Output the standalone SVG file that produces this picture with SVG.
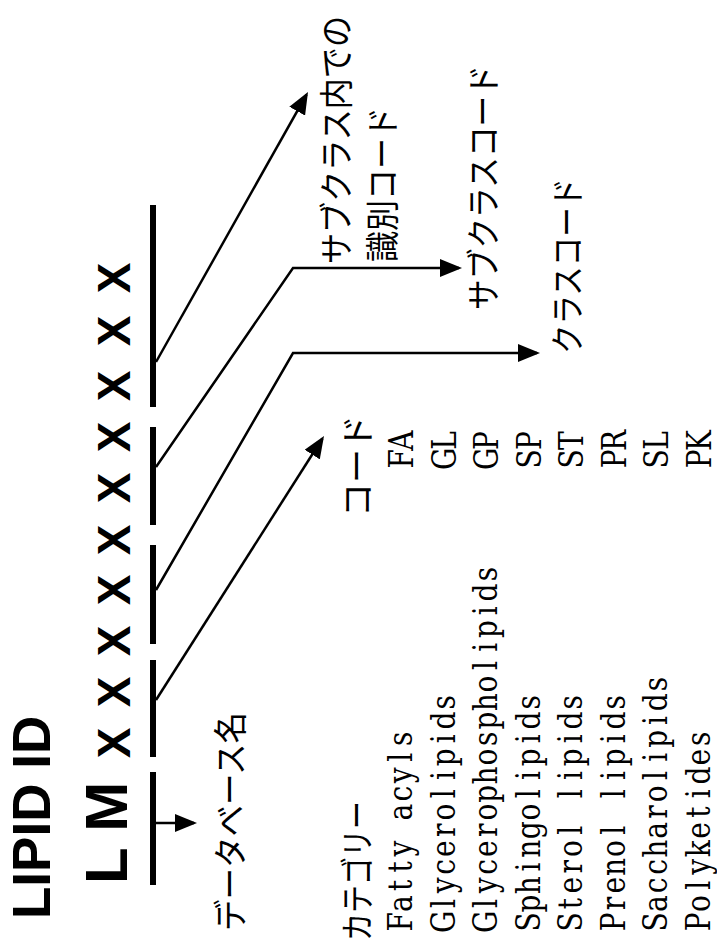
<svg xmlns="http://www.w3.org/2000/svg" width="717" height="944" viewBox="0 0 717 944">
  <defs>
    <style>
      .bold { font-family: "Liberation Sans", Arial, sans-serif; font-weight: bold; fill: #000; }
      .ja { font-family: "Noto Sans CJK JP", sans-serif; font-size: 34px; fill: #000; }
      .tbl { font-family: "DejaVu Serif", "Liberation Serif", serif; font-size: 33px; text-anchor: middle; fill: #000; }
      .bar { fill: #000; }
      .conn { stroke: #000; stroke-width: 2.5; fill: none; }
    </style>
    <marker id="head" viewBox="0 0 22 18" markerUnits="userSpaceOnUse" markerWidth="22" markerHeight="18" refX="19" refY="9" orient="auto">
      <path d="M0,0 L22,9 L0,18 z" fill="#000"/>
    </marker>
  </defs>
  <rect width="717" height="944" fill="#fff"/>

  <!-- title, written bottom-to-top -->
  <g id="title">
    <text class="bold" font-size="53" transform="rotate(-90)" x="-919" y="50">LIPID ID</text>
  </g>

  <!-- identifier: database prefix followed by ten code positions -->
  <g id="id-string">
    <text class="bold" font-size="60" transform="rotate(-90)" x="-884" y="127">L M</text>
    <g transform="rotate(-90)" class="bold" font-size="46" text-anchor="middle">
      <text x="-743" y="130">X</text>
      <text x="-692" y="130">X</text>
      <text x="-641" y="130">X</text>
      <text x="-590" y="130">X</text>
      <text x="-540" y="130">X</text>
      <text x="-488" y="130">X</text>
      <text x="-437" y="130">X</text>
      <text x="-386" y="130">X</text>
      <text x="-331" y="130">X</text>
      <text x="-278" y="130">X</text>
    </g>
  </g>

  <!-- brackets under each field of the identifier -->
  <g id="field-db"><rect class="bar" x="150" y="772" width="6" height="113"/></g>
  <g id="field-category"><rect class="bar" x="150" y="660" width="6" height="97"/></g>
  <g id="field-class"><rect class="bar" x="150" y="545" width="6" height="99"/></g>
  <g id="field-subclass"><rect class="bar" x="150" y="427" width="6" height="98"/></g>
  <g id="field-id"><rect class="bar" x="150" y="205" width="6" height="202"/></g>

  <!-- connectors -->
  <g id="connectors">
    <path class="conn" d="M153,823 H194" marker-end="url(#head)"/>
    <path class="conn" d="M156,700 L322.4,438.5" marker-end="url(#head)"/>
    <path class="conn" d="M156,590 L293,353 H537" marker-end="url(#head)"/>
    <path class="conn" d="M156,467 L293,268 H459" marker-end="url(#head)"/>
    <path class="conn" d="M156,362 L306.5,94.6" marker-end="url(#head)"/>
  </g>

  <!-- field labels -->
  <g id="label-db">
    <text class="ja" transform="rotate(-90)" x="-931" y="243" textLength="219" lengthAdjust="spacingAndGlyphs">データベース名</text>
  </g>
  <g id="label-id">
    <text class="ja" font-size="30" transform="rotate(-90)" x="-264" y="349" textLength="248" lengthAdjust="spacingAndGlyphs">サブクラス内での</text>
    <text class="ja" transform="rotate(-90)" x="-262" y="395" textLength="155" lengthAdjust="spacingAndGlyphs">識別コード</text>
  </g>
  <g id="label-subclass">
    <text class="ja" transform="rotate(-90)" x="-310" y="496" textLength="245" lengthAdjust="spacingAndGlyphs">サブクラスコード</text>
  </g>
  <g id="label-class">
    <text class="ja" transform="rotate(-90)" x="-354" y="580" textLength="176" lengthAdjust="spacingAndGlyphs">クラスコード</text>
  </g>

  <!-- category table: fixed-width cells, one glyph centred per cell -->
  <g id="category-table">
    <text class="ja" transform="rotate(-90)" x="-941" y="370" textLength="140" lengthAdjust="spacingAndGlyphs">カテゴリー</text>
    <text class="ja" transform="rotate(-90)" x="-517" y="370" textLength="102" lengthAdjust="spacingAndGlyphs">コード</text>
    <g transform="rotate(-90) scale(0.85,1)" class="tbl">
      <text y="412" x="-1084.5 -1063.0 -1041.5 -1019.9 -998.4 -976.9 -955.4 -933.8 -912.3 -890.8 -869.2">Fatty acyls</text>
      <text y="454.6" x="-1084.5 -1063.0 -1041.5 -1019.9 -998.4 -976.9 -955.4 -933.8 -912.3 -890.8 -869.2 -847.7 -826.2">Glycerolipids</text>
      <text y="497.1" x="-1084.5 -1063.0 -1041.5 -1019.9 -998.4 -976.9 -955.4 -933.8 -912.3 -890.8 -869.2 -847.7 -826.2 -804.7 -783.1 -761.6 -740.1 -718.5 -697.0 -675.5">Glycerophospholipids</text>
      <text y="539.7" x="-1084.5 -1063.0 -1041.5 -1019.9 -998.4 -976.9 -955.4 -933.8 -912.3 -890.8 -869.2 -847.7 -826.2">Sphingolipids</text>
      <text y="582.3" x="-1084.5 -1063.0 -1041.5 -1019.9 -998.4 -976.9 -955.4 -933.8 -912.3 -890.8 -869.2 -847.7 -826.2">Sterol lipids</text>
      <text y="624.9" x="-1084.5 -1063.0 -1041.5 -1019.9 -998.4 -976.9 -955.4 -933.8 -912.3 -890.8 -869.2 -847.7 -826.2">Prenol lipids</text>
      <text y="667.4" x="-1084.5 -1063.0 -1041.5 -1019.9 -998.4 -976.9 -955.4 -933.8 -912.3 -890.8 -869.2 -847.7 -826.2 -804.7">Saccharolipids</text>
      <text y="710" x="-1084.5 -1063.0 -1041.5 -1019.9 -998.4 -976.9 -955.4 -933.8 -912.3 -890.8 -869.2">Polyketides</text>

      <text y="413" x="-539.8 -518.3">FA</text>
      <text y="455.6" x="-539.8 -518.3">GL</text>
      <text y="498.1" x="-539.8 -518.3">GP</text>
      <text y="540.7" x="-539.8 -518.3">SP</text>
      <text y="583.3" x="-539.8 -518.3">ST</text>
      <text y="625.9" x="-539.8 -518.3">PR</text>
      <text y="668.4" x="-539.8 -518.3">SL</text>
      <text y="711" x="-539.8 -518.3">PK</text>
    </g>
  </g>
</svg>
